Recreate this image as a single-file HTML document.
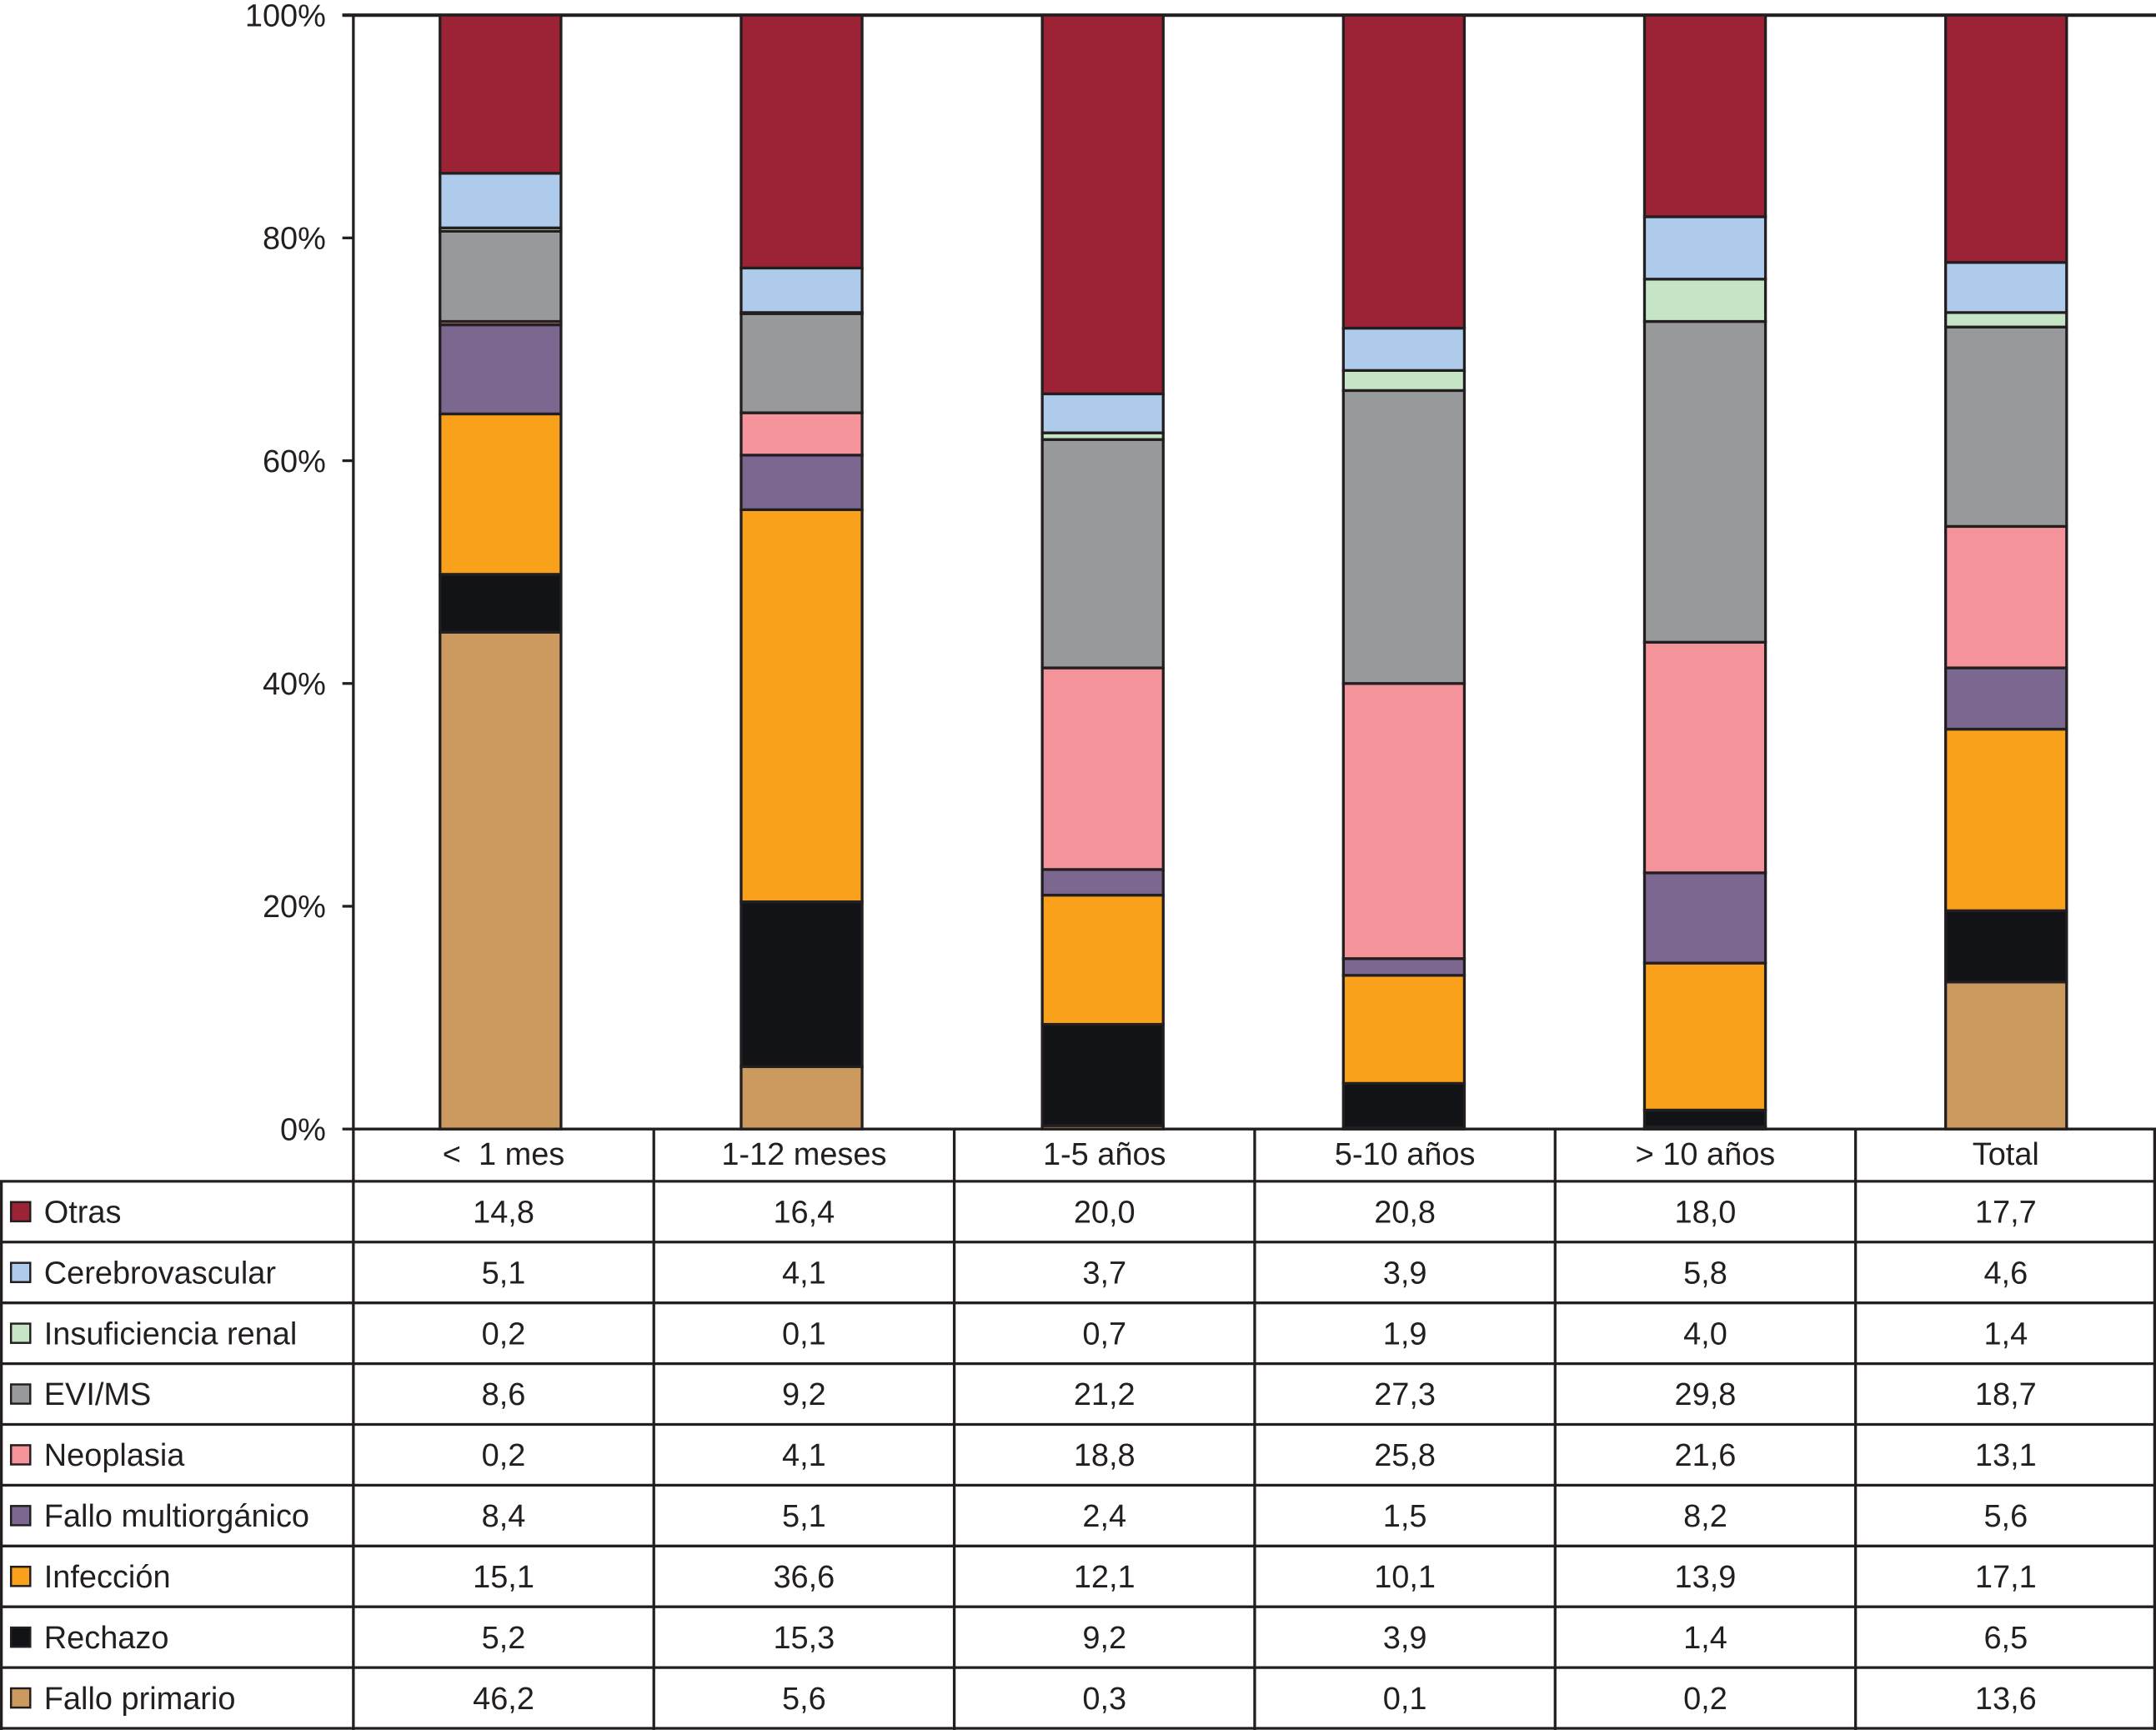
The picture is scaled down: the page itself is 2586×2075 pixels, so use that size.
<!DOCTYPE html>
<html><head><meta charset="utf-8"><style>
html,body{margin:0;padding:0;background:#fff}
svg{display:block}
text{font-family:"Liberation Sans",sans-serif;fill:#231f20;white-space:pre}
</style></head><body>
<svg id="chart" width="2586" height="2075" viewBox="0 0 1568 1258" preserveAspectRatio="none" xmlns="http://www.w3.org/2000/svg"></svg>
<script>
const categories = ["<  1 mes","1-12 meses","1-5 años","5-10 años","> 10 años","Total"];
const seriesNames = ["Otras","Cerebrovascular","Insuficiencia renal","EVI/MS","Neoplasia","Fallo multiorgánico","Infección","Rechazo","Fallo primario"];
// table values
const otras = [14.8,16.4,20.0,20.8,18.0,17.7];
const cerebro = [5.1,4.1,3.7,3.9,5.8,4.6];
const renal = [0.2,0.1,0.7,1.9,4.0,1.4];
const evims = [8.6,9.2,21.2,27.3,29.8,18.7];
const neoplasia = [0.2,4.1,18.8,25.8,21.6,13.1];
const multi = [8.4,5.1,2.4,1.5,8.2,5.6];
const infeccion = [15.1,36.6,12.1,10.1,13.9,17.1];
const rechazo = [5.2,15.3,9.2,3.9,1.4,6.5];
const primario = [46.2,5.6,0.3,0.1,0.2,13.6];
// bar heights (% of column, as drawn)
const barOtras = [14.2,22.7,34.0,28.1,18.1,22.2];
const barCerebro = [4.9,4.0,3.5,3.8,5.6,4.5];
const barRenal = [0.3,0.1,0.6,1.8,3.8,1.3];
const barEvims = [8.1,8.9,20.5,26.3,28.8,17.9];
const barNeoplasia = [0.3,3.8,18.1,24.7,20.7,12.7];
const barMulti = [8.0,4.9,2.3,1.5,8.1,5.5];
const barInfeccion = [14.4,35.2,11.6,9.7,13.2,16.3];
const barRechazo = [5.2,14.8,9.1,4.0,1.5,6.4];
const barPrimario = [44.6,5.6,0.3,0.1,0.2,13.2];
const yTicks = [0,20,40,60,80,100];

(function(){
const series = [otras,cerebro,renal,evims,neoplasia,multi,infeccion,rechazo,primario];
const bars = [barOtras,barCerebro,barRenal,barEvims,barNeoplasia,barMulti,barInfeccion,barRechazo,barPrimario];
const colors = ["#9b2335","#aecbeb","#c6e4c6","#98999b","#f4939a","#7b6790","#f9a11b","#111316","#cc9a5e"];
const NS="http://www.w3.org/2000/svg";
const svg=document.getElementById('chart');
function el(t,a,p){const e=document.createElementNS(NS,t);for(const k in a)e.setAttribute(k,a[k]);(p||svg).appendChild(e);return e;}
const X0=257, X1=1568, Y0=821, Y1=11;
const colW=(X1-X0)/categories.length;
const y=v=>Y0-(v/100)*(Y0-Y1);
const xc=i=>X0+colW*(i+0.5);
const xb=i=>X0+107+219*i;
const barW=88;
const fmt=v=>v.toFixed(1).replace('.',',');

yTicks.forEach(t=>{
  const tx=el('text',{x:237,y:y(t)+8,'text-anchor':'end','font-size':23});
  tx.textContent=t+'%';
  
  
  const ln=el('line',{x1:249,x2:X0,y1:y(t),y2:y(t),stroke:'#231f20','stroke-width':2});
  
  
});
const topLine=el('line',{x1:249,x2:X1,y1:Y1,y2:Y1,stroke:'#231f20','stroke-width':2.5});



categories.forEach((c,i)=>{
  let cum=0;
  for(let k=bars.length-1;k>=0;k--){
    const v=bars[k][i];
    const r=el('rect',{x:xb(i)-barW/2,y:y(cum+v),width:barW,height:y(cum)-y(cum+v),fill:colors[k],stroke:'#231f20','stroke-width':2});
    
    
    cum+=v;
  }
});

const ax=el('line',{x1:X0,x2:X0,y1:Y1,y2:1258,stroke:'#231f20','stroke-width':2});



const headH=38, rowH=44.2;
const tRows0=Y0+headH;
el('line',{x1:X0,x2:X1,y1:Y0,y2:Y0,stroke:'#231f20','stroke-width':2});
for(let r=0;r<=seriesNames.length;r++){
  const yy=Math.min(tRows0+r*rowH,1257);
  el('line',{x1:0,x2:X1,y1:yy,y2:yy,stroke:'#231f20','stroke-width':2});
}
el('line',{x1:1,x2:1,y1:tRows0,y2:1258,stroke:'#231f20','stroke-width':2});
el('line',{x1:X1-1,x2:X1-1,y1:Y0,y2:1258,stroke:'#231f20','stroke-width':2});
for(let i=1;i<categories.length;i++){
  el('line',{x1:X0+colW*i,x2:X0+colW*i,y1:Y0,y2:1258,stroke:'#231f20','stroke-width':2});
}
categories.forEach((c,i)=>{
  const t=el('text',{x:xc(i),y:Y0+26,'text-anchor':'middle','font-size':23});
  t.textContent=c;
  
  
});
seriesNames.forEach((n,k)=>{
  const cy=tRows0+k*rowH+rowH/2;
  const sq=el('rect',{x:8,y:cy-7,width:14,height:14,fill:colors[k],stroke:'#231f20','stroke-width':1.5});
  
  
  const t=el('text',{x:32,y:cy+8,'font-size':23});
  t.textContent=n;
  
  
  series[k].forEach((v,i)=>{
    const tv=el('text',{x:xc(i),y:cy+8,'text-anchor':'middle','font-size':23});
    tv.textContent=fmt(v);
    
    
  });
});
})();
</script>
</body></html>
